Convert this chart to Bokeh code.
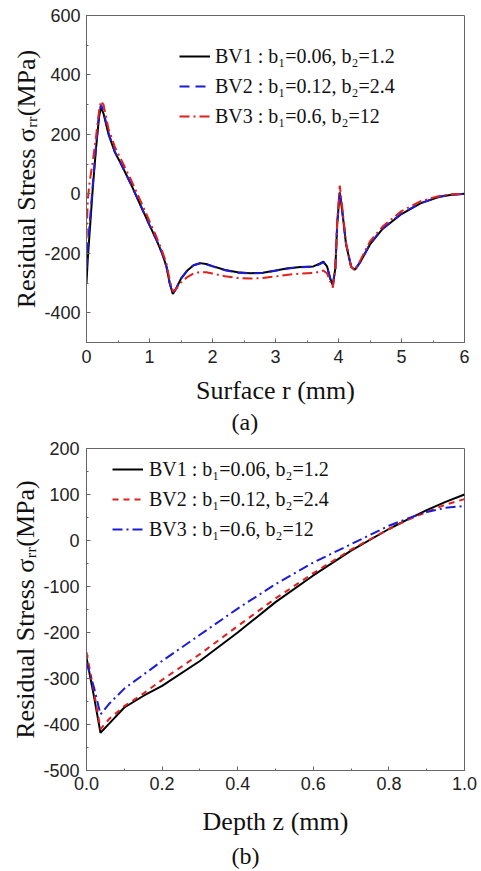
from bokeh.plotting import figure
from bokeh.layouts import column
from bokeh.models import Range1d, SingleIntervalTicker, PrintfTickFormatter, Legend, LegendItem, Title
from bokeh.embed import file_html
from bokeh.resources import INLINE

# ---------------- Panel (a): surface r ----------------
r_a = [0, 0.02, 0.05, 0.1, 0.15, 0.2, 0.23, 0.27, 0.35, 0.45, 0.55, 0.7, 0.85, 1.0, 1.1, 1.2,
       1.27, 1.32, 1.37, 1.42, 1.5, 1.6, 1.7, 1.8, 1.9, 2.0, 2.2, 2.4, 2.6, 2.8, 3.0, 3.2,
       3.4, 3.6, 3.7, 3.76, 3.82, 3.87, 3.91, 3.95, 3.98, 4.02, 4.06, 4.12, 4.2, 4.26, 4.35,
       4.5, 4.7, 5.0, 5.3, 5.6, 5.8, 6.0]
bv1_a = [-300, -220, -130, 20, 150, 260, 292, 270, 200, 140, 100, 35, -35, -105, -150, -200,
         -245, -300, -337, -320, -285, -258, -240, -233, -236, -243, -256, -264, -267, -265, -258, -250,
         -246, -244, -235, -228, -245, -285, -308, -250, -100, 5, -60, -170, -245, -255, -228,
         -170, -118, -68, -32, -10, -3, 0]
bv2_a = [-250, -180, -100, 30, 160, 270, 300, 278, 205, 142, 100, 35, -35, -105, -150, -200,
         -245, -300, -335, -320, -285, -258, -240, -234, -237, -244, -257, -265, -268, -266, -259, -251,
         -247, -245, -237, -230, -247, -287, -306, -250, -100, 8, -58, -168, -244, -256, -228,
         -168, -116, -66, -31, -10, -3, 0]
bv3_a = [-150, -20, 40, 110, 190, 280, 312, 300, 218, 158, 115, 50, -20, -92, -140, -192,
         -235, -290, -328, -320, -298, -280, -268, -263, -264, -268, -277, -283, -285, -283, -278, -272,
         -268, -266, -262, -258, -268, -295, -315, -250, -90, 28, -45, -165, -245, -258, -222,
         -160, -110, -58, -25, -7, -1, 0]

# ---------------- Panel (b): depth z ----------------
z_b = [0, 0.02, 0.037, 0.06, 0.1, 0.15, 0.2, 0.3, 0.4, 0.5, 0.6, 0.7, 0.8, 0.85, 0.9, 0.95, 1.0]
bv1_b = [-255, -340, -418, -398, -363, -338, -316, -262, -200, -134, -76, -22, 25, 46, 66, 84, 100]
bv2_b = [-243, -330, -410, -388, -360, -333, -303, -247, -186, -126, -71, -20, 25, 45, 62, 78, 90]
bv3_b = [-265, -320, -378, -355, -322, -292, -262, -205, -148, -95, -48, -8, 32, 48, 62, 71, 75]

labels = ["BV1 : b\u2081=0.06, b\u2082=1.2",
          "BV2 : b\u2081=0.12, b\u2082=2.4",
          "BV3 : b\u2081=0.6, b\u2082=12"]

BLACK = "#000000"
BLUE = "#1c1cd8"
RED = "#e0201c"
GRAY = "#666666"
SERIF = "Liberation Serif"
SANS = "Liberation Sans"
YLABEL = "Residual Stress \u03c3\u1d63\u1d63(MPa)"


def style(p, xlab, ylab, tick_std_x, lab_std_x, tick_std_y, lab_std_y):
    p.outline_line_color = GRAY
    p.outline_line_width = 1
    p.xgrid.visible = False
    p.ygrid.visible = False
    for ax in (p.xaxis[0], p.yaxis[0]):
        ax.axis_line_color = GRAY
        ax.major_tick_line_color = GRAY
        ax.minor_tick_line_color = GRAY
        ax.major_tick_in = 4
        ax.major_tick_out = 0
        ax.minor_tick_in = 2
        ax.minor_tick_out = 0
        ax.major_label_text_font = SANS
        ax.major_label_text_font_size = "18px"
        ax.major_label_text_color = "#222222"
        ax.axis_label_text_font = SERIF
        ax.axis_label_text_font_size = "26px"
        ax.axis_label_text_font_style = "normal"
        ax.axis_label_text_color = "#111111"
    p.xaxis[0].axis_label = xlab
    p.yaxis[0].axis_label = ylab
    p.xaxis[0].major_label_standoff = tick_std_x
    p.xaxis[0].axis_label_standoff = lab_std_x
    p.yaxis[0].major_label_standoff = tick_std_y
    p.yaxis[0].axis_label_standoff = lab_std_y


def make_legend(renderers, loc, standoff):
    return Legend(items=[LegendItem(label=lab, renderers=[r]) for lab, r in zip(labels, renderers)],
                  location=loc, margin=0, padding=0, spacing=2,
                  glyph_width=31, glyph_height=28, label_height=28, label_standoff=standoff,
                  label_text_font=SERIF, label_text_font_size="20px", label_text_color="#111111",
                  border_line_color=None, background_fill_alpha=0)


# ---- figure a ----
pa = figure(width=481, height=407, output_backend="svg", toolbar_location=None,
            x_range=Range1d(0, 6), y_range=Range1d(-500, 600),
            min_border_left=84, min_border_right=17, min_border_top=15, min_border_bottom=63)
pa.xaxis.ticker = SingleIntervalTicker(interval=1, num_minor_ticks=2)
pa.yaxis.ticker = SingleIntervalTicker(interval=200, num_minor_ticks=2)
pa.yaxis.formatter = PrintfTickFormatter(format="%d")
style(pa, "Surface r (mm)", YLABEL, 7, 10, 6, 0)

a1 = pa.line(r_a, bv1_a, line_color=BLACK, line_width=2)
a2 = pa.line(r_a, bv2_a, line_color=BLUE, line_width=2, line_dash="10 6")
a3 = pa.line(r_a, bv3_a, line_color=RED, line_width=2, line_dash="10 4 2 4")
pa.add_layout(make_legend([a1, a2, a3], (93, 212), 5))

# ---- figure b ----
pb = figure(width=481, height=464, output_backend="svg", toolbar_location=None,
            x_range=Range1d(0, 1), y_range=Range1d(-500, 200),
            min_border_left=86, min_border_right=17, min_border_top=36, min_border_bottom=101)
pb.xaxis.ticker = SingleIntervalTicker(interval=0.2, num_minor_ticks=2)
pb.yaxis.ticker = SingleIntervalTicker(interval=100, num_minor_ticks=2)
pb.xaxis.formatter = PrintfTickFormatter(format="%.1f")
pb.yaxis.formatter = PrintfTickFormatter(format="%d")
style(pb, "Depth z (mm)", YLABEL, 6, 14, 7, 0)

b1 = pb.line(z_b, bv1_b, line_color=BLACK, line_width=2)
b2 = pb.line(z_b, bv2_b, line_color=RED, line_width=2, line_dash="6 5")
b3 = pb.line(z_b, bv3_b, line_color=BLUE, line_width=2, line_dash="10 4 2 4")
pb.add_layout(make_legend([b1, b2, b3], (26, 227), 6))

# panel captions (a thin spacer title keeps "(a)" clear of panel (b)'s frame)
pb.add_layout(Title(text=" ", standoff=7, text_font_size="2px"), "above")
pb.add_layout(Title(text="(a)", align="left", offset=145, standoff=2, vertical_align="top",
                    text_font=SERIF, text_font_size="24px", text_font_style="normal",
                    text_color="#111111"), "above")
pb.add_layout(Title(text="(b)", align="left", offset=145, standoff=4,
                    text_font=SERIF, text_font_size="24px", text_font_style="normal",
                    text_color="#111111"), "below")

layout = column(pa, pb, spacing=0)
open("out.html", "w").write(file_html(layout, INLINE))
